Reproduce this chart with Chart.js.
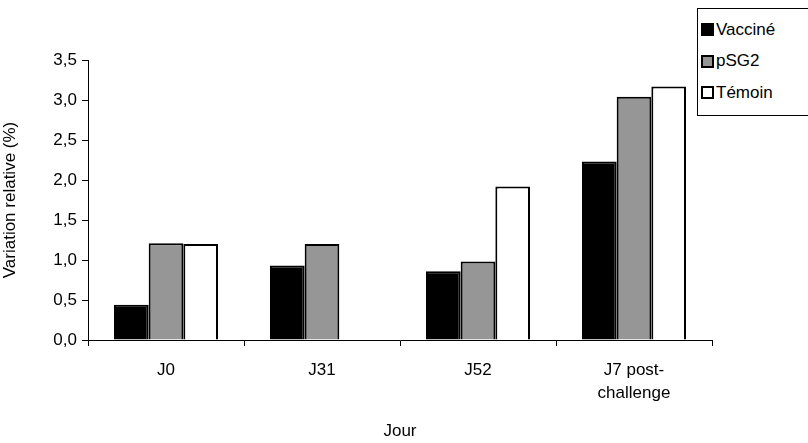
<!DOCTYPE html>
<html>
<head>
<meta charset="utf-8">
<script src="https://cdn.jsdelivr.net/npm/chart.js@4.4.1/dist/chart.umd.min.js"></script>
<style>
  body { margin: 0; background: #fff; }
  #wrap { position: relative; width: 808px; height: 443px; }
  #legend {
    position: absolute; left: 697px; top: 8px; width: 112px; height: 108px;
    border: 1px solid #000; box-sizing: border-box; background: #fff;
    font-family: "Liberation Sans", Arial, sans-serif; font-size: 17px; color: #000;
    padding-top: 5px;
  }
  #legend .row { display: flex; align-items: center; height: 31.5px; padding-left: 3px; }
  #legend .sw { width: 9px; height: 9px; border: 2px solid #000; margin-right: 2px; }
</style>
</head>
<body>
<div id="wrap">
  <canvas id="myChart" width="808" height="443"></canvas>
  <div id="legend"></div>
</div>
<script>
const labels = ['J0', 'J31', 'J52', ['J7 post-', 'challenge']]
const vaccine = [0.44, 0.93, 0.86, 2.23]
const psg2 = [1.21, 1.2, 0.98, 3.04]
const temoin = [1.2, null, 1.92, 3.17]
const yTicks = [0, 0.5, 1, 1.5, 2, 2.5, 3, 3.5]

const seriesNames = ['Vacciné', 'pSG2', 'Témoin']
const fills = ['#000000', '#969696', '#ffffff']

const font = { family: '"Liberation Sans", Arial, sans-serif', size: 17 }

const dataConfig = {
    labels: labels,
    datasets: [vaccine, psg2, temoin].map((d, i) => ({
        label: seriesNames[i],
        data: d,
        backgroundColor: fills[i],
        borderColor: '#000',
        borderWidth: 2,
        categoryPercentage: 3 / 4.5,
        barPercentage: 1
    }))
}

const config = {
    type: 'bar',
    data: dataConfig,
    options: {
        responsive: false,
        animation: false,
        layout: { padding: { top: 60, right: 96, left: 0, bottom: 0 } },
        plugins: { legend: { display: false }, tooltip: { enabled: false } },
        scales: {
            x: {
                grid: { display: true, drawOnChartArea: false, color: '#000', tickLength: 6, offset: true },
                border: { color: '#000', width: 1 },
                ticks: { color: '#000', font: { ...font, lineHeight: 1.35 }, padding: 13, maxRotation: 0 },
                title: { display: true, text: 'Jour', color: '#000', font: font, padding: { top: 4, bottom: 1 } },
                afterFit: (s) => { s.height = 103 }
            },
            y: {
                min: 0,
                max: 3.5,
                afterBuildTicks: (s) => { s.ticks = yTicks.map(v => ({ value: v })) },
                grid: { display: true, drawOnChartArea: false, color: '#000', tickLength: 6 },
                border: { color: '#000', width: 1 },
                ticks: {
                    color: '#000', font: font, padding: 5,
                    callback: (v) => v.toFixed(1).replace('.', ',')
                },
                title: { display: true, text: 'Variation relative (%)', color: '#000', font: font, padding: { top: 0, bottom: 0 } },
                afterFit: (s) => { s.width = 88 }
            }
        }
    }
}

const myChart = new Chart(document.getElementById('myChart'), config)

const legend = document.getElementById('legend')
seriesNames.forEach((name, i) => {
    const row = document.createElement('div')
    row.className = 'row'
    const sw = document.createElement('span')
    sw.className = 'sw'
    sw.style.background = fills[i]
    row.appendChild(sw)
    row.appendChild(document.createTextNode(name))
    legend.appendChild(row)
})
</script>
</body>
</html>
